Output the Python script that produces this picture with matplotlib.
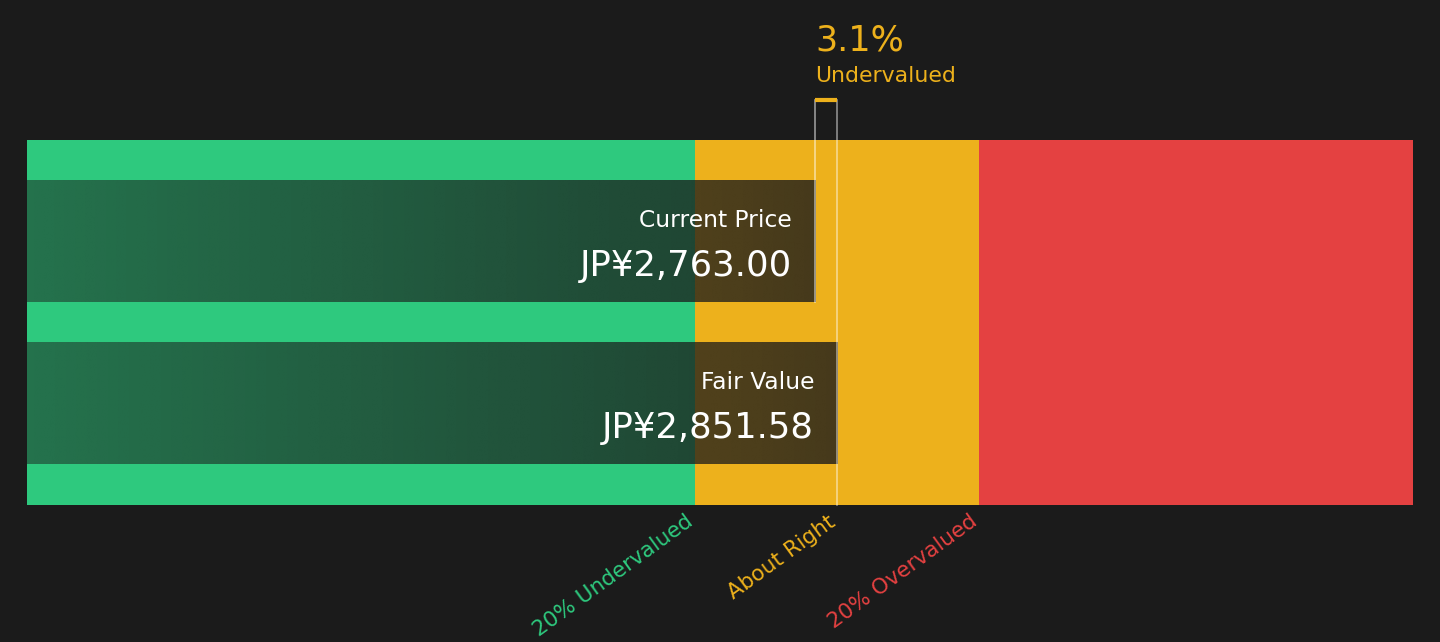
import matplotlib
matplotlib.use('Agg')
import matplotlib.pyplot as plt
import numpy as np

# values
labels = ["Fair Value", "Current Price"]
values = [2851.58, 2763.00]
currency = "JP¥"
fair_value = values[0]
current_price = values[1]
diff_pct = (fair_value - current_price) / fair_value * 100
zone_names = ["20% Undervalued", "About Right", "20% Overvalued"]
zone_edges = [0.8, 1.0, 1.2]  # fraction of fair value

BG = '#1b1b1b'
GREEN = '#2ec97e'
YELLOW = '#edb11c'
RED = '#e44141'
zone_colors = [GREEN, YELLOW, RED]


def make_chart():
    fig = plt.figure(figsize=(14.4, 6.42), dpi=100, facecolor=BG)
    ax = fig.add_axes([27 / 1440, 1 - 505 / 642, 1386 / 1440, 365 / 642])
    ax.set_facecolor(BG)

    xmin = -0.1408 * fair_value
    xmax = 1.811 * fair_value
    bar_h = 0.747
    ymin, ymax = -0.6265, 1.6265
    pad = 0.0324 * fair_value

    # valuation bands
    g_end = zone_edges[0] * fair_value
    r_start = zone_edges[2] * fair_value
    ax.axvspan(xmin, g_end, color=GREEN, lw=0)
    ax.axvspan(g_end, r_start, color=YELLOW, lw=0)
    ax.axvspan(r_start, xmax, color=RED, lw=0)

    # dark gradient bars
    grad = np.linspace(0.5, 0.8, 256)
    rgba = np.zeros((1, 256, 4))
    rgba[..., :3] = np.array([27, 27, 27]) / 255
    rgba[..., 3] = grad
    for i, (lab, val) in enumerate(zip(labels, values)):
        ax.imshow(rgba, extent=(xmin, val, i - bar_h / 2, i + bar_h / 2),
                  aspect='auto', interpolation='bilinear', zorder=2)
        ax.text(val - pad, i + 0.09, lab, color='white',
                fontsize=16.8, ha='right', va='baseline', zorder=5)
        ax.text(val - pad, i - 0.21, f"{currency}{val:,.2f}",
                color='white', fontsize=25.5, ha='right', va='baseline', zorder=5)

    # marker lines
    top = ymax + 0.247
    ax.plot([current_price, current_price], [1 - bar_h / 2, top],
            color='white', alpha=0.55, lw=1.2, zorder=4, clip_on=False)
    ax.plot([fair_value, fair_value], [ymin, top],
            color='white', alpha=0.5, lw=1.2, zorder=4, clip_on=False)
    ax.plot([current_price, fair_value], [top, top],
            color=YELLOW, lw=3, zorder=5, clip_on=False, solid_capstyle='butt')

    ax.text(current_price, ymax + 0.355, "Undervalued", color=YELLOW,
            fontsize=15.8, ha='left', va='baseline')
    ax.text(current_price, ymax + 0.55, f"{diff_pct:.1f}%", color=YELLOW,
            fontsize=25.2, ha='left', va='baseline')

    # zone labels under the bands
    for name, edge, col in zip(zone_names, zone_edges, zone_colors):
        ax.text(edge * fair_value - 0.014 * fair_value, ymin - 0.04, name,
                color=col, fontsize=15.5, rotation=36, rotation_mode='anchor',
                ha='right', va='top')

    ax.set_xlim(xmin, xmax)
    ax.set_ylim(ymin, ymax)
    ax.axis('off')

    fig.savefig('out.png', dpi=100, facecolor=BG)
    plt.close(fig)


if __name__ == "__main__":
    make_chart()
